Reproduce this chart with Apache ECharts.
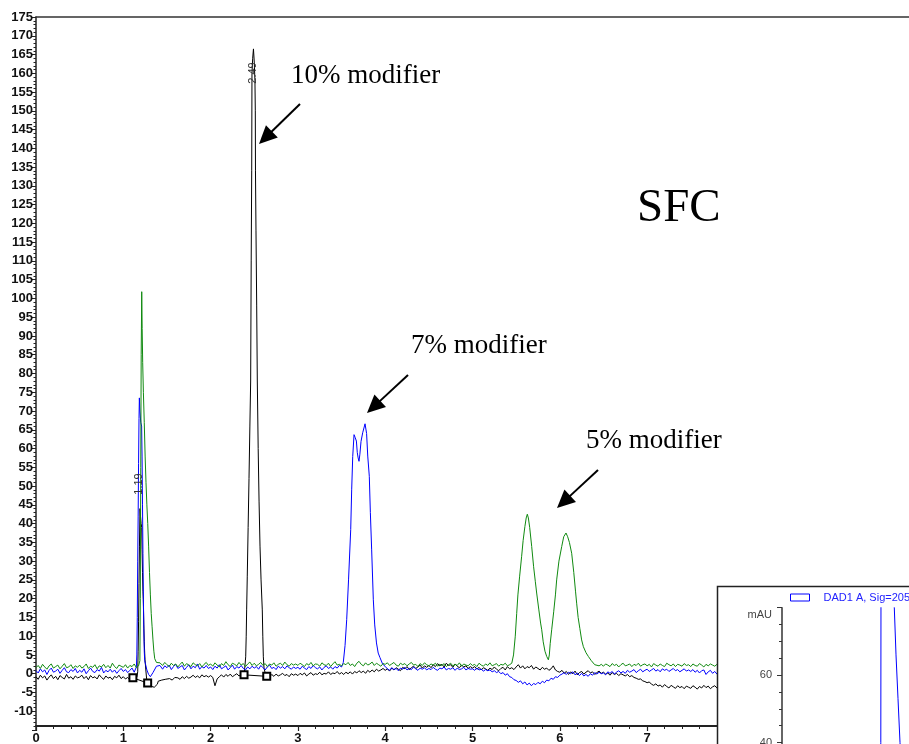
<!DOCTYPE html>
<html><head><meta charset="utf-8">
<script src="https://cdn.jsdelivr.net/npm/echarts@6/dist/echarts.min.js"></script>
<style>html,body{margin:0;padding:0;background:#fff}#c{width:909px;height:744px}</style>
</head><body><div id="c"></div>
<script>
// sampling step of baseline arrays (minutes)
const STEP = 0.025;

// x / y tick setup
const xTicks = [0, 1, 2, 3, 4, 5, 6, 7];
const yRange = [-15, 175];

// ---- 10% modifier (black) ----
const blackBaseline = [
  -0.8,-1.5,-0.4,-1.1,-0.6,-1.7,-0.9,-0.3,-1.3,-0.7,-1.6,-0.5,-1.0,-1.4,-0.2,-1.2,-0.8,-1.5,-0.6,-1.1,
  -0.9,-0.4,-1.3,-0.7,-1.6,-0.5,-1.1,-0.8,-1.4,-0.3,-1.0,-1.5,-0.6,-1.2,-0.9,-1.6,-0.7,-1.1,-0.4,-1.3,
  -0.8,-1.4,-1.0,-1.6,-1.2,-1.5,null,null,null,null,null,null,null,null,null,null,null,null,null,null,
  null,null,null,null,null,-1.1,-1.5,-0.8,-1.3,-0.7,-1.2,-0.9,-0.4,-1.0,-0.6,-1.1,-0.3,-0.8,-0.5,-0.9,
  -0.5,-1.0,-3.2,-1.4,-0.8,-0.3,-0.9,-0.2,-0.7,-0.1,-0.8,-0.4,0.0,-0.6,-0.3,null,null,null,null,null,
  null,null,null,null,null,null,-0.5,-0.9,-0.2,-0.7,-0.1,-0.6,-0.3,0.1,-0.5,-0.2,-0.8,0.0,-0.4,-0.1,
  -0.5,0.1,-0.3,0.2,-0.6,-0.1,0.3,-0.4,0.0,-0.2,0.4,-0.3,0.1,-0.1,0.5,-0.2,0.2,0.0,0.6,-0.1,
  0.3,-0.2,0.4,0.0,0.5,-0.1,0.6,0.2,0.8,0.3,0.7,0.1,0.9,0.4,1.0,0.5,1.2,0.7,1.0,1.4,
  0.9,1.3,0.7,1.5,1.0,1.6,1.2,0.8,1.7,1.3,1.9,1.1,1.6,2.0,1.4,1.8,2.3,1.5,2.1,1.7,
  2.2,1.6,2.4,1.9,2.7,2.1,2.5,1.8,2.8,2.2,2.4,1.7,2.6,2.0,1.6,2.3,1.8,2.1,1.4,1.9,
  1.5,1.9,1.2,1.7,1.0,1.6,1.3,0.9,1.5,1.1,1.8,1.2,0.8,1.4,1.7,1.0,1.9,1.3,1.6,1.1,
  1.8,2.4,1.5,2.1,1.3,1.9,1.6,2.2,1.2,1.8,1.4,1.0,1.7,1.2,1.5,0.9,1.3,2.1,1.0,0.6,
  0.4,0.9,0.1,0.6,-0.2,0.5,0.0,0.7,-0.3,0.3,0.6,-0.1,0.4,0.8,0.2,0.5,-0.2,0.3,0.7,0.1,
  0.4,-0.1,0.2,-0.4,0.3,-0.2,0.1,-0.5,0.0,-0.3,-0.6,-0.2,-0.8,-0.5,-1.0,-1.2,-1.5,-1.4,-1.9,-2.1,
  -2.4,-2.2,-2.8,-3.1,-2.7,-3.3,-3.0,-3.6,-2.9,-3.4,-3.8,-3.1,-3.5,-3.9,-3.2,-3.7,-3.4,-4.0,-3.3,-3.6,
  -3.9,-3.2,-3.6,-4.1,-3.4,-3.8,-3.1,-3.7,-3.3,-4.0,-3.5,-3.2,-3.8,-3.4,-3.6,-3.0,-3.5,-3.8,-3.3,-3.6
];
const blackPeak119 = [
  [1.14,-1.2],[1.155,-0.9],[1.165,0.5],[1.17,6],[1.175,14],[1.18,24],[1.185,34],[1.191,44],[1.197,42],
  [1.204,40],[1.211,39],[1.215,33],[1.22,27],[1.225,22],[1.229,19.7],[1.235,13],[1.24,8.5],[1.245,5.5],
  [1.249,3.7],[1.258,1],[1.268,-1.6],[1.28,-2.0],[1.295,-2.4],[1.31,-2.9],[1.325,-3.4],[1.34,-3.0],
  [1.355,-3.6],[1.375,-3.9],[1.39,-2.8],[1.40,-2.0],[1.42,-2.4],[1.44,-1.7],[1.46,-2.1],[1.48,-1.5],
  [1.50,-1.8],[1.53,-1.3],[1.56,-1.7],[1.59,-1.0],[1.60,-1.3]
];
const blackPeak249 = [
  [2.37,-0.6],[2.385,0],[2.395,2.5],[2.402,4.5],[2.408,10],[2.413,17],[2.42,26],[2.43,39],[2.44,52],
  [2.45,66],[2.459,78],[2.465,110],[2.471,134],[2.474,160],[2.482,164],[2.491,166.5],[2.50,163],
  [2.508,158],[2.512,150],[2.514,134],[2.52,118],[2.528,98],[2.535,78],[2.545,60],[2.555,46],
  [2.566,34],[2.578,25],[2.592,17],[2.598,10],[2.604,4.5],[2.612,1.5],[2.625,0.2],[2.64,-0.4]
];

// ---- 7% modifier (blue) ----
const blueBaseline = [
  0.8,0.2,1.3,0.5,1.0,-0.2,0.9,1.5,0.4,0.7,1.2,0.1,0.9,1.6,0.5,0.3,1.1,0.6,1.4,0.2,
  0.9,0.4,1.3,0.0,0.8,1.5,0.6,0.3,1.1,0.7,1.7,0.2,0.9,0.5,1.2,0.4,1.0,0.1,0.8,1.4,
  0.6,1.1,0.3,0.9,1.5,0.4,null,null,null,null,null,null,null,null,null,null,null,1.8,1.2,2.1,
  1.6,2.3,1.1,1.9,2.5,1.4,1.8,2.2,1.0,1.7,2.4,1.3,2.0,1.6,2.6,1.2,1.9,1.5,2.2,1.4,
  1.8,1.1,2.0,1.5,2.4,1.3,1.7,2.1,1.0,1.6,2.3,1.2,1.9,1.5,2.2,1.4,1.0,1.8,1.3,2.0,
  1.5,1.9,1.2,2.2,1.6,1.0,1.8,2.3,1.4,1.7,1.1,2.0,1.5,1.9,1.3,2.1,1.6,1.2,1.8,1.4,
  1.7,1.2,2.0,1.5,1.1,1.9,1.4,2.2,1.6,1.3,1.8,1.0,1.7,2.1,1.4,1.8,1.2,1.9,1.5,2.2,
  null,null,null,null,null,null,null,null,null,null,null,null,null,null,null,null,null,null,null,null,
  null,1.3,0.9,1.6,1.1,1.4,0.8,1.5,1.2,1.7,1.0,1.4,1.1,1.8,1.3,0.9,1.5,1.2,1.6,1.0,
  1.4,1.1,1.7,1.2,0.9,1.5,1.3,1.8,1.0,1.4,1.2,1.6,0.9,1.5,1.1,1.3,1.7,1.0,1.4,1.2,
  1.3,0.9,1.5,1.0,1.2,0.7,1.1,0.8,1.0,0.5,0.8,0.3,0.6,0.0,0.3,-0.4,0.0,-0.8,-1.0,-1.6,
  -1.8,-2.3,-1.9,-2.7,-2.2,-3.0,-2.5,-3.2,-2.6,-2.9,-2.3,-2.7,-2.0,-2.4,-1.7,-1.9,-1.2,-1.5,-0.8,-1.0,
  -0.4,-0.1,0.3,-0.2,0.4,0.0,0.5,-0.3,0.2,-0.5,0.1,-0.6,-0.2,-0.7,0.0,-0.4,0.3,-0.1,0.4,0.0,
  0.2,-0.3,0.5,0.1,0.6,-0.1,0.4,0.8,0.2,0.6,0.1,0.9,0.4,0.7,1.1,0.3,0.8,1.2,0.5,0.9,
  1.2,0.6,1.0,1.4,0.7,1.1,0.5,1.3,0.9,1.2,0.6,1.0,1.4,0.8,1.1,0.5,0.9,1.3,0.7,1.0,
  0.6,1.1,0.4,0.9,0.2,0.8,1.0,-0.2,0.5,0.9,0.1,0.6,-0.1,0.7,0.3,0.8,0.2,0.5,0.9,0.4
];
const bluePeakEarly = [
  [1.145,0.9],[1.15,1.8],[1.155,5],[1.16,15],[1.165,30],[1.17,42],[1.175,56],[1.18,68],[1.184,73.5],
  [1.19,70],[1.20,67],[1.21,66],[1.215,58],[1.22,45],[1.225,32],[1.23,20],[1.235,12],[1.24,6],
  [1.245,3.5],[1.255,2.5],[1.27,1.0],[1.29,-0.2],[1.31,-0.8],[1.325,-0.7],[1.34,0.3],[1.36,0.8],
  [1.38,2.0],[1.40,1.6],[1.42,2.2]
];
const bluePeak7 = [
  [3.50,1.8],[3.52,3],[3.54,7.5],[3.559,14.4],[3.58,25],[3.605,38.4],[3.616,49],[3.628,57.9],
  [3.643,63.7],[3.655,63],[3.67,62],[3.68,59],[3.69,57.5],[3.70,56.6],[3.71,58.5],[3.723,61.9],
  [3.742,64.2],[3.755,64],[3.769,66.6],[3.787,64],[3.80,58],[3.818,52.6],[3.83,43],[3.845,33],
  [3.864,19.7],[3.88,13],[3.90,8.2],[3.92,5.5],[3.94,4.3],[3.97,2.6],[3.998,2.0],[4.02,1.5]
];

// ---- 5% modifier (green) ----
const greenBaseline = [
  1.6,2.2,1.4,2.5,1.8,1.2,2.1,2.6,1.5,1.9,2.3,1.3,2.0,2.7,1.6,1.8,2.4,1.4,2.1,1.7,
  2.3,1.5,1.9,2.6,1.4,2.0,1.7,2.4,1.3,2.1,1.8,2.5,1.6,2.2,1.5,2.8,1.9,1.4,2.3,2.0,
  1.7,2.4,1.5,2.2,1.9,2.6,1.6,2.1,null,null,null,null,null,null,null,null,null,2.6,2.2,3.0,
  2.4,1.9,2.8,2.2,2.6,1.8,2.5,3.1,2.0,2.7,2.3,1.9,2.9,2.4,2.1,2.7,1.8,2.5,3.0,2.2,
  2.6,2.0,2.9,2.3,1.8,2.7,2.2,3.2,2.4,1.9,2.8,2.5,2.1,3.0,2.3,2.7,1.9,2.6,3.1,2.2,
  2.8,2.1,2.5,3.0,2.2,2.7,1.9,2.6,2.3,2.9,2.0,2.5,2.8,2.2,3.1,2.4,2.0,2.7,2.3,2.6,
  2.2,2.8,2.4,1.9,2.7,2.3,3.0,2.1,2.6,2.5,2.0,2.9,2.4,2.2,2.8,1.9,2.6,3.2,2.3,2.5,
  2.1,2.7,2.4,3.0,2.2,2.6,1.9,2.8,3.3,2.5,2.1,2.9,2.3,2.6,3.1,2.2,2.8,2.4,2.0,2.7,
  2.5,2.9,2.2,2.6,3.0,2.3,2.0,2.8,2.4,2.7,2.1,2.6,3.0,2.3,2.5,1.9,2.7,2.2,2.9,2.4,
  2.1,2.6,2.3,2.8,2.0,2.5,2.2,2.7,1.9,2.4,2.8,2.1,2.5,2.2,2.9,2.0,2.6,2.3,2.1,2.7,
  2.2,2.5,1.9,2.8,2.3,2.0,2.6,2.2,2.9,2.1,2.4,2.7,2.0,2.5,2.3,2.8,2.1,2.4,null,null,
  null,null,null,null,null,null,null,null,null,null,null,null,null,null,null,null,null,null,null,null,
  null,null,null,null,null,null,null,null,null,null,null,null,null,null,null,null,null,2.6,2.1,2.5,
  2.0,2.6,2.3,1.9,2.7,2.2,2.5,1.8,2.4,2.8,2.1,2.3,2.6,1.9,2.5,2.2,2.8,2.0,2.4,2.6,
  2.1,2.5,1.8,2.7,2.3,2.0,2.6,2.2,1.9,2.8,2.4,2.1,2.6,1.9,2.5,2.3,2.0,2.7,2.2,2.4,
  1.9,2.6,2.2,2.0,2.7,2.3,1.8,2.5,2.1,2.6,2.3,2.0,2.5,2.2,2.8,2.1,2.4,2.0,2.6,2.2
];
const greenPeakEarly = [
  [1.18,2.4],[1.19,3.5],[1.195,20],[1.20,55],[1.205,85],[1.211,101.8],[1.216,92],[1.222,83],[1.23,75],
  [1.24,67],[1.25,58],[1.26,51],[1.27,45],[1.28,40],[1.29,34],[1.30,27],[1.31,21],[1.32,16],
  [1.33,12.5],[1.34,9],[1.35,6],[1.36,4],[1.38,3],[1.40,2.6],[1.42,2.9]
];
const greenPeak5 = [
  [5.44,2.4],[5.45,2.8],[5.47,5],[5.49,10],[5.506,16],[5.52,21],[5.54,26],[5.563,31.3],[5.58,35.5],
  [5.60,39.2],[5.615,41.5],[5.628,42.5],[5.64,41.5],[5.655,39],[5.678,33.9],[5.70,28.5],[5.72,24.5],
  [5.735,21.5],[5.76,17],[5.78,13.5],[5.793,11.7],[5.81,8.5],[5.83,6],[5.85,4.6],[5.869,3.7],[5.88,5],
  [5.89,8],[5.907,11.7],[5.93,16.5],[5.95,21],[5.964,25],[5.99,30],[6.022,33.9],[6.045,36.5],
  [6.071,37.5],[6.09,36.5],[6.11,35],[6.136,32.1],[6.16,27],[6.18,22],[6.193,18.8],[6.21,15],
  [6.23,12],[6.25,9],[6.27,7.2],[6.30,5.6],[6.327,4.6],[6.36,3.5],[6.40,2.4],[6.42,2.6]
];

// integration baseline markers (start/end of integrated peaks)
const integrationMarks = [
  [[1.11,-1.1],[1.279,-2.5]],
  [[2.383,-0.3],[2.643,-0.7]]
];

// inset chromatogram (DAD1 A, Sig=205), cropped view
const insetName = 'DAD1 A, Sig=205';
const insetPeak = [
  [0.30,1.5],[0.45,2],[0.48,4],[0.49,15],[0.494,40],[0.495,85],[0.50,140],[0.53,190],
  [0.555,100],[0.557,85],[0.5615,80],[0.57,66],[0.58,53],[0.59,40],[0.60,28],[0.62,12],
  [0.65,5],[0.70,2],[0.80,1.5]
];
const insetYTicks = [40, 60, 80];

// text annotations
const peakLabels = [{ text: '1.19', x: 139, y: 484 }, { text: '2.49', x: 253, y: 73 }];
const notes = [
  { text: '10% modifier', x: 291, y: 76 },
  { text: '7% modifier', x: 411, y: 346 },
  { text: '5% modifier', x: 586, y: 441 }
];
const arrows = [
  [300, 104, 259, 144],
  [408, 375, 367, 413],
  [598, 470, 557, 508]
];

function build(base, peaks) {
  const pts = [];
  base.forEach((v, i) => { if (v !== null) pts.push([+(i * STEP).toFixed(3), v]); });
  peaks.forEach(p => p.forEach(q => pts.push(q)));
  pts.sort((a, b) => a[0] - b[0]);
  return pts;
}

const blackData = build(blackBaseline, [blackPeak119, blackPeak249]);
const blueData = build(blueBaseline, [bluePeakEarly, bluePeak7]);
const greenData = build(greenBaseline, [greenPeakEarly, greenPeak5]);

function arrowEls(a) {
  const [x0, y0, x1, y1] = a;
  const dx = x1 - x0, dy = y1 - y0, L = Math.hypot(dx, dy);
  const ux = dx / L, uy = dy / L, hl = 18, hw = 8.5;
  const bx = x1 - ux * hl, by = y1 - uy * hl;
  return [
    { type: 'line', z: 5, shape: { x1: x0, y1: y0, x2: bx + ux * 2, y2: by + uy * 2 }, style: { stroke: '#000', lineWidth: 2 } },
    { type: 'polygon', z: 5, shape: { points: [[x1, y1], [bx - uy * hw, by + ux * hw], [bx + uy * hw, by - ux * hw]] }, style: { fill: '#000' } }
  ];
}

const graphics = [];
arrows.forEach(a => arrowEls(a).forEach(e => graphics.push(e)));
notes.forEach(n => graphics.push({
  type: 'text', z: 5, x: n.x, y: n.y,
  style: { text: n.text, fontSize: 27, fontFamily: 'Liberation Serif', fill: '#000', align: 'left', verticalAlign: 'middle', textAlign: 'left', textVerticalAlign: 'middle' }
}));
graphics.push({
  type: 'text', z: 5, x: 637, y: 209,
  style: { text: 'SFC', fontSize: 47, fontFamily: 'Liberation Serif', fill: '#000', align: 'left', verticalAlign: 'middle', textAlign: 'left', textVerticalAlign: 'middle' }
});
peakLabels.forEach(p => graphics.push({
  type: 'text', z: 5, x: p.x, y: p.y, rotation: Math.PI / 2,
  style: { text: p.text, fontSize: 11, fontFamily: 'Liberation Sans', fill: '#333', align: 'center', verticalAlign: 'middle', textAlign: 'center', textVerticalAlign: 'middle' }
}));
// inset panel background
graphics.push({
  type: 'rect', z: 10, shape: { x: 717.5, y: 586.5, width: 260, height: 220 },
  style: { fill: '#fff', stroke: '#222', lineWidth: 1.5 }
});
graphics.push({
  type: 'text', z: 21, x: 772, y: 615,
  style: { text: 'mAU', fontSize: 11, fontFamily: 'Liberation Sans', fill: '#444', align: 'right', verticalAlign: 'middle', textAlign: 'right', textVerticalAlign: 'middle' }
});

const axisFont = { fontFamily: 'Liberation Sans', fontSize: 13, fontWeight: 'bold', color: '#111' };

const series = [
  { name: '10% modifier', type: 'line', data: blackData, showSymbol: false, lineStyle: { color: '#000', width: 1 }, itemStyle: { color: '#000' }, xAxisIndex: 0, yAxisIndex: 0, z: 2 },
  { name: '7% modifier', type: 'line', data: blueData, showSymbol: false, lineStyle: { color: '#0000ff', width: 1 }, itemStyle: { color: '#0000ff' }, xAxisIndex: 0, yAxisIndex: 0, z: 3 },
  { name: '5% modifier', type: 'line', data: greenData, showSymbol: false, lineStyle: { color: '#108a10', width: 1 }, itemStyle: { color: '#108a10' }, xAxisIndex: 0, yAxisIndex: 0, z: 4 }
];
integrationMarks.forEach((m, i) => series.push({
  name: 'baseline' + i, type: 'line', data: m, symbol: 'emptyRect', symbolSize: 7, showSymbol: true,
  lineStyle: { color: '#000', width: 1 }, itemStyle: { color: '#000', borderWidth: 1 }, xAxisIndex: 0, yAxisIndex: 0, z: 5
}));
series.push({
  name: insetName, type: 'line', data: insetPeak, showSymbol: false, xAxisIndex: 2, yAxisIndex: 1,
  lineStyle: { color: '#0000ff', width: 1 }, itemStyle: { color: '#0000ff' }, z: 20, clip: true
});

const chart = echarts.init(document.getElementById('c'), null, { renderer: 'canvas' });
chart.setOption({
  animation: false,
  backgroundColor: '#fff',
  grid: [
    { left: 36, top: 17, right: 0, bottom: 14, outerBoundsMode: 'none', containLabel: false },
    { left: 782, top: 607.7, width: 200, height: 269.6, outerBoundsMode: 'none', containLabel: false }
  ],
  legend: {
    data: [insetName], left: 785, top: 587, icon: 'rect', itemWidth: 19, itemHeight: 7, itemGap: 5,
    itemStyle: { color: 'transparent', borderColor: '#0000ff', borderWidth: 1 },
    textStyle: { color: '#2222ff', fontSize: 11, fontFamily: 'Liberation Sans', padding: [0, 0, 0, 9] },
    z: 21, selectedMode: false
  },
  xAxis: [
    {
      type: 'value', gridIndex: 0, position: 'bottom', offset: -4, min: 0, max: 10, interval: 1,
      axisLine: { show: true, onZero: false, lineStyle: { color: '#222', width: 2 } },
      axisTick: { show: true, length: 5, lineStyle: { color: '#222', width: 1.2 } },
      minorTick: { show: true, splitNumber: 5, length: 3, lineStyle: { color: '#222', width: 1 } },
      axisLabel: Object.assign({ margin: 6, formatter: v => xTicks.indexOf(v) >= 0 ? String(v) : '' }, axisFont),
      splitLine: { show: false }
    },
    {
      type: 'value', gridIndex: 0, position: 'top', min: 0, max: 10,
      axisLine: { show: true, onZero: false, lineStyle: { color: '#333', width: 1.5 } },
      axisTick: { show: false }, axisLabel: { show: false }, splitLine: { show: false }
    },
    { type: 'value', gridIndex: 1, min: 0, max: 1, show: false }
  ],
  yAxis: [
    {
      type: 'value', gridIndex: 0, min: yRange[0], max: yRange[1], interval: 5,
      axisLine: { show: true, onZero: false, lineStyle: { color: '#222', width: 1.5 } },
      axisTick: { show: true, length: 4, lineStyle: { color: '#222', width: 1 } },
      minorTick: { show: true, splitNumber: 5, length: 2.5, lineStyle: { color: '#222', width: 1 } },
      axisLabel: Object.assign({ margin: 3, showMinLabel: false }, axisFont),
      splitLine: { show: false }
    },
    {
      type: 'value', gridIndex: 1, min: 0, max: 80, interval: 20, z: 20,
      axisLine: { show: true, onZero: false, lineStyle: { color: '#333', width: 1.5 } },
      axisTick: { show: true, length: 5, lineStyle: { color: '#333', width: 1 } },
      minorTick: { show: true, splitNumber: 4, length: 3, lineStyle: { color: '#333', width: 1 } },
      axisLabel: { margin: 10, fontSize: 11, fontFamily: 'Liberation Sans', color: '#444', formatter: v => insetYTicks.indexOf(v) >= 0 && v !== 80 ? String(v) : '' },
      splitLine: { show: false }
    }
  ],
  graphic: { elements: graphics },
  series: series
});
</script>
</body></html>
